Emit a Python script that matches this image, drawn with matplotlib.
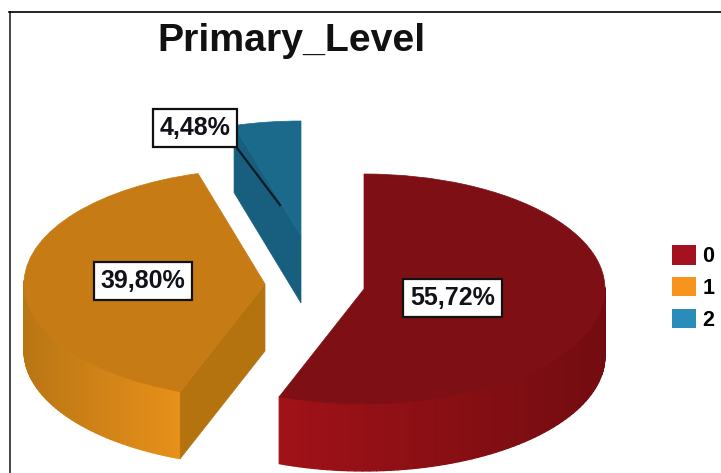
import numpy as np
import matplotlib
matplotlib.use("Agg")
import matplotlib.pyplot as plt
from matplotlib.collections import PolyCollection
from matplotlib.colors import to_rgb
from matplotlib.patches import Patch

# data
categories = ["0", "1", "2"]
shares = [55.72, 39.80, 4.48]
labels = ["55,72%", "39,80%", "4,48%"]
title = "Primary_Level"

# style / layout (pixels)
W, H = 721, 473
RX, RY, DEPTH = 241.0, 115.0, 67.0
centers_px = [(364, 289), (265, 284), (301, 236)]
top_cols = ["#7E1015", "#C77B14", "#1B6A8B"]
side_bright = ["#A01218", "#E8901A", "#1B6A8B"]
side_dark = ["#730C10", "#B97614", "#1B6A8B"]
face_cols = ["#7E1015", "#B5730F", "#185F7F"]
legend_cols = ["#A5121F", "#F7941D", "#2A8CB8"]
label_px = [(452.5, 298), (143, 281), (195, 128)]

fig = plt.figure(figsize=(W / 100, H / 100), dpi=100, facecolor="white")
ax = fig.add_axes([0, 0, 1, 1])


def ux(x):
    return x / RX


def uy(y):
    return (H - y) / RY


d = DEPTH / RY
edges = 90 - 3.6 * np.concatenate([[0], np.cumsum(shares)])  # degrees, clockwise from top

for i in [2, 1, 0]:
    c = (ux(centers_px[i][0]), uy(centers_px[i][1]))
    a0, a1 = edges[i], edges[i + 1]
    # outer wall, drawn where it faces the viewer
    th = np.radians(np.linspace(a0, a1, 120))
    polys, cols = [], []
    b, k = np.array(to_rgb(side_bright[i])), np.array(to_rgb(side_dark[i]))
    for t0, t1 in zip(th[:-1], th[1:]):
        if np.sin((t0 + t1) / 2) > 0.02:
            continue
        xs = np.array([np.cos(t0), np.cos(t1)]) + c[0]
        ys = np.array([np.sin(t0), np.sin(t1)]) + c[1]
        polys.append([(xs[0], ys[0]), (xs[1], ys[1]), (xs[1], ys[1] - d), (xs[0], ys[0] - d)])
        if i == 0:
            f = np.clip((np.cos((t0 + t1) / 2) + 0.35) / 1.35, 0, 1)
        else:
            f = np.clip((-0.35 - np.cos((t0 + t1) / 2)) / 0.65, 0, 1)
        cols.append(tuple(b + (k - b) * f))
    if polys:
        ax.add_collection(PolyCollection(polys, facecolors=cols, edgecolors=cols, linewidths=0.9, zorder=2))
    # radial cut wall, visible for slices 1 and 2
    if i in (1, 2):
        t = np.radians(a0)
        ex, ey = c[0] + np.cos(t), c[1] + np.sin(t)
        ax.fill([c[0], ex, ex, c[0]], [c[1], ey, ey - d, c[1] - d],
                color=face_cols[i], lw=0.5, zorder=2)
    # top surface
    wedges, _ = ax.pie(shares, colors=top_cols, startangle=90, counterclock=False,
                       center=c, radius=1, frame=False)
    for j, w in enumerate(wedges):
        if j != i:
            w.remove()
        else:
            w.set_zorder(3)
            w.set_edgecolor(top_cols[i])
            w.set_linewidth(0.5)

ax.set_aspect("auto")
ax.set_xlim(0, W / RX)
ax.set_ylim(0, H / RY)
ax.axis("off")

# leader line for the small slice
ax.plot([ux(237), ux(280)], [uy(148), uy(205)], color="#0A1A25", lw=1.6, zorder=5)

# value labels
for (x, y), s in zip(label_px, labels):
    ax.text(ux(x), uy(y), s, ha="center", va="center", fontsize=18, fontweight="bold",
            family="Liberation Sans", color="#111118", zorder=6,
            bbox=dict(boxstyle="square,pad=0.28", fc="white", ec="#111111", lw=1.6))

fig.text(291 / W, 1 - 41 / H, title, ha="center", va="center", fontsize=28.3,
         fontweight="bold", family="Liberation Sans", color="#111111")

# frame lines
fig.add_artist(plt.Line2D([9.5 / W, 9.5 / W], [0, 1 - 12 / H], color="#444444", lw=1.4))
fig.add_artist(plt.Line2D([9 / W, 1], [1 - 12.5 / H, 1 - 12.5 / H], color="black", lw=1.2))

handles = [Patch(facecolor=c, edgecolor="none") for c in legend_cols]
fig.legend(handles, categories, loc="center left", bbox_to_anchor=(672 / W, 1 - 288 / H),
           frameon=False, handlelength=1.12, handleheight=1.02,
           handletextpad=0.28, labelspacing=0.44, borderpad=0, borderaxespad=0,
           prop=dict(family="Liberation Sans", weight="bold", size=15.5))

fig.savefig("out.png", dpi=100)
